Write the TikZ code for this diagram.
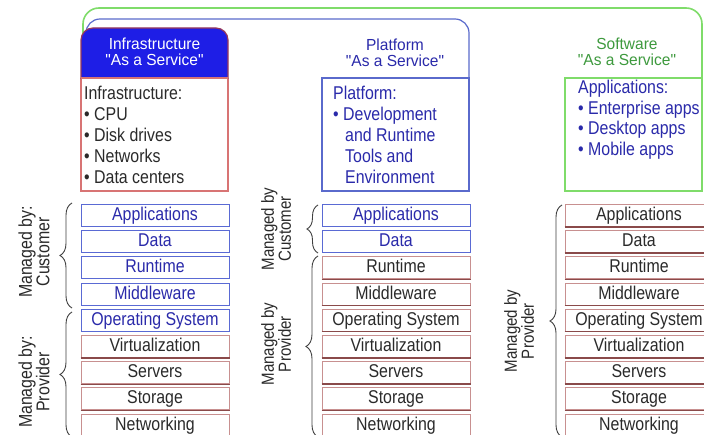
\documentclass[tikz,border=0pt]{standalone}
\usepackage{fontspec}
\setmainfont{Liberation Sans}[FakeStretch=0.86]
\newfontfamily\hdrfam{Liberation Sans}[FakeStretch=0.97]
\usetikzlibrary{decorations.pathreplacing}
\definecolor{iaasblue}{HTML}{1E1EE6}
\definecolor{iaasedge}{HTML}{D87474}
\definecolor{iaastop}{HTML}{9A3A5A}
\definecolor{frameblue}{HTML}{5A6ACC}
\definecolor{framegreen}{HTML}{7FDC6A}
\definecolor{rowblue}{HTML}{5A6AD4}
\definecolor{txtblue}{HTML}{2A2AAA}
\definecolor{rowpink}{HTML}{C89090}
\definecolor{rowdark}{HTML}{8A4A4A}
\definecolor{txtgray}{HTML}{2A2A2A}
\definecolor{txtgreen}{HTML}{3E9A3E}
\newcommand\rowfnt{\fontsize{18.5}{20}\selectfont}
\newcommand\hdrfnt{\hdrfam\fontsize{16}{16}\selectfont}
\newcommand\cntfnt{\fontsize{18.5}{20}\selectfont}
\newcommand\mgrfnt{\fontsize{17.5}{17}\selectfont}
\newcommand\mgrbigfnt{\fontsize{18.5}{17.5}\selectfont}
\begin{document}
\begin{tikzpicture}[x=1pt,y=-1pt,
  rowbase/.style={line width=1pt, fill=white, minimum width=148pt, minimum height=22pt,
    inner sep=0pt, text height=13pt, text depth=3pt, font=\rowfnt},
  bluerow/.style={rowbase, draw=rowblue, text=txtblue},
  redrow/.style={rowbase, draw=rowpink, text=txtgray},
  hdr/.style={anchor=base, inner sep=0pt, font=\hdrfnt},
  cnt/.style={anchor=base west, inner sep=0pt, font=\cntfnt},
  mgr/.style={rotate=90, align=center, inner sep=0pt, font=\mgrfnt, text=txtgray},
  brc/.style={decorate, decoration={brace, amplitude=12pt}, line width=0.9pt, draw=black!75}]
\fill[white] (0,0) rectangle (704,435);
\useasboundingbox (0,0) rectangle (704,435);

% outer frames
\draw[framegreen, line width=1.6pt, rounded corners=16pt] (83,40) -- (83,8) -- (702,8) -- (702,80);
\draw[frameblue, line width=1.2pt, rounded corners=14pt] (86,40) -- (86,19) -- (469,19) -- (469,80);

% IaaS box
\fill[white] (81,78) rectangle (228,191);
\draw[iaasedge, line width=1.3pt] (81,78) -- (81,191) -- (228,191) -- (228,78);
\draw[iaastop, fill=iaasblue, line width=1.2pt] (81,78) {[rounded corners=12pt] -- (81,28) -- (228,28)} -- (228,78) -- cycle;
\draw[iaasedge, line width=1.3pt] (81,78) -- (228,78);
\node[hdr, text=white] (ih1) at (154.5,50) {Infrastructure};
\node[hdr, text=white] (ih2) at (154.5,65.5) {"As a Service"};
\node[cnt, text=txtgray] (ic1) at (84,100) {Infrastructure:};
\node[cnt, text=txtgray] (ic2) at (84,121) {• CPU};
\node[cnt, text=txtgray] (ic3) at (84,142) {• Disk drives};
\node[cnt, text=txtgray] (ic4) at (84,163) {• Networks};
\node[cnt, text=txtgray] (ic5) at (84,184) {• Data centers};

% PaaS box
\draw[frameblue, line width=1.2pt, fill=white] (322,78) rectangle (469,191);
\node[hdr, text=txtblue] (ph1) at (395,51) {Platform};
\node[hdr, text=txtblue] (ph2) at (395,66.5) {"As a Service"};
\node[cnt, text=txtblue] (pc1) at (333,100) {Platform:};
\node[cnt, text=txtblue] (pc2) at (333,121) {• Development};
\node[cnt, text=txtblue] (pc3) at (345,142) {and Runtime};
\node[cnt, text=txtblue] (pc4) at (345,163) {Tools and};
\node[cnt, text=txtblue] (pc5) at (345,184) {Environment};

% SaaS box
\draw[framegreen, line width=1.4pt, fill=white] (565,78) rectangle (702,191);
\node[hdr, text=txtgreen] (sh1) at (627,50) {Software};
\node[hdr, text=txtgreen] (sh2) at (627,65.5) {"As a Service"};
\node[cnt, text=txtblue] (sc1) at (578,94) {Applications:};
\node[cnt, text=txtblue] (sc2) at (578,114.5) {• Enterprise apps};
\node[cnt, text=txtblue] (sc3) at (578,135) {• Desktop apps};
\node[cnt, text=txtblue] (sc4) at (578,155.5) {• Mobile apps};

% stacks
\foreach \t [count=\i from 0] in {Applications,Data,Runtime,Middleware,Operating System,Virtualization,Servers,Storage,Networking} {
  \pgfmathsetmacro\yy{215.5+26.2*\i}
  \ifnum\i<5
    \node[bluerow] (ia\i) at (155,\yy) {\t};
  \else
    \node[redrow] (ia\i) at (155,\yy) {\t};
    \draw[rowdark, line width=1.2pt] (ia\i.south west) -- (ia\i.south east);
  \fi
  \ifnum\i<2
    \node[bluerow] (pa\i) at (396,\yy) {\t};
  \else
    \node[redrow] (pa\i) at (396,\yy) {\t};
    \draw[rowdark, line width=1.4pt] (pa\i.south west) -- (pa\i.south east);
  \fi
  \node[redrow] (sa\i) at (639,\yy) {\t};
  \draw[rowdark, line width=1.4pt] (sa\i.south west) -- (sa\i.south east);
}

% braces
\coordinate (b1s) at (72,308); \coordinate (b1e) at (72,203);
\coordinate (b2s) at (72,437); \coordinate (b2e) at (72,312);
\coordinate (b3s) at (318,253); \coordinate (b3e) at (318,205);
\coordinate (b4s) at (318,437); \coordinate (b4e) at (318,256);
\coordinate (b5s) at (562,437); \coordinate (b5e) at (562,205);
\draw[brc] (b1s) -- (b1e);
\draw[brc] (b2s) -- (b2e);
\draw[brc, decoration={brace, amplitude=11pt}] (b3s) -- (b3e);
\draw[brc] (b4s) -- (b4e);
\draw[brc] (b5s) -- (b5e);

% managed-by labels
\node[mgr, font=\mgrbigfnt] (m1) at (34,252) {Managed by:\\Customer};
\node[mgr, font=\mgrbigfnt] (m2) at (34,382) {Managed by:\\Provider};
\node[mgr] (m3) at (276,229) {Managed by\\Customer};
\node[mgr] (m4) at (276,344) {Managed by\\Provider};
\node[mgr] (m5) at (519,331) {Managed by\\Provider};
\end{tikzpicture}
\end{document}
